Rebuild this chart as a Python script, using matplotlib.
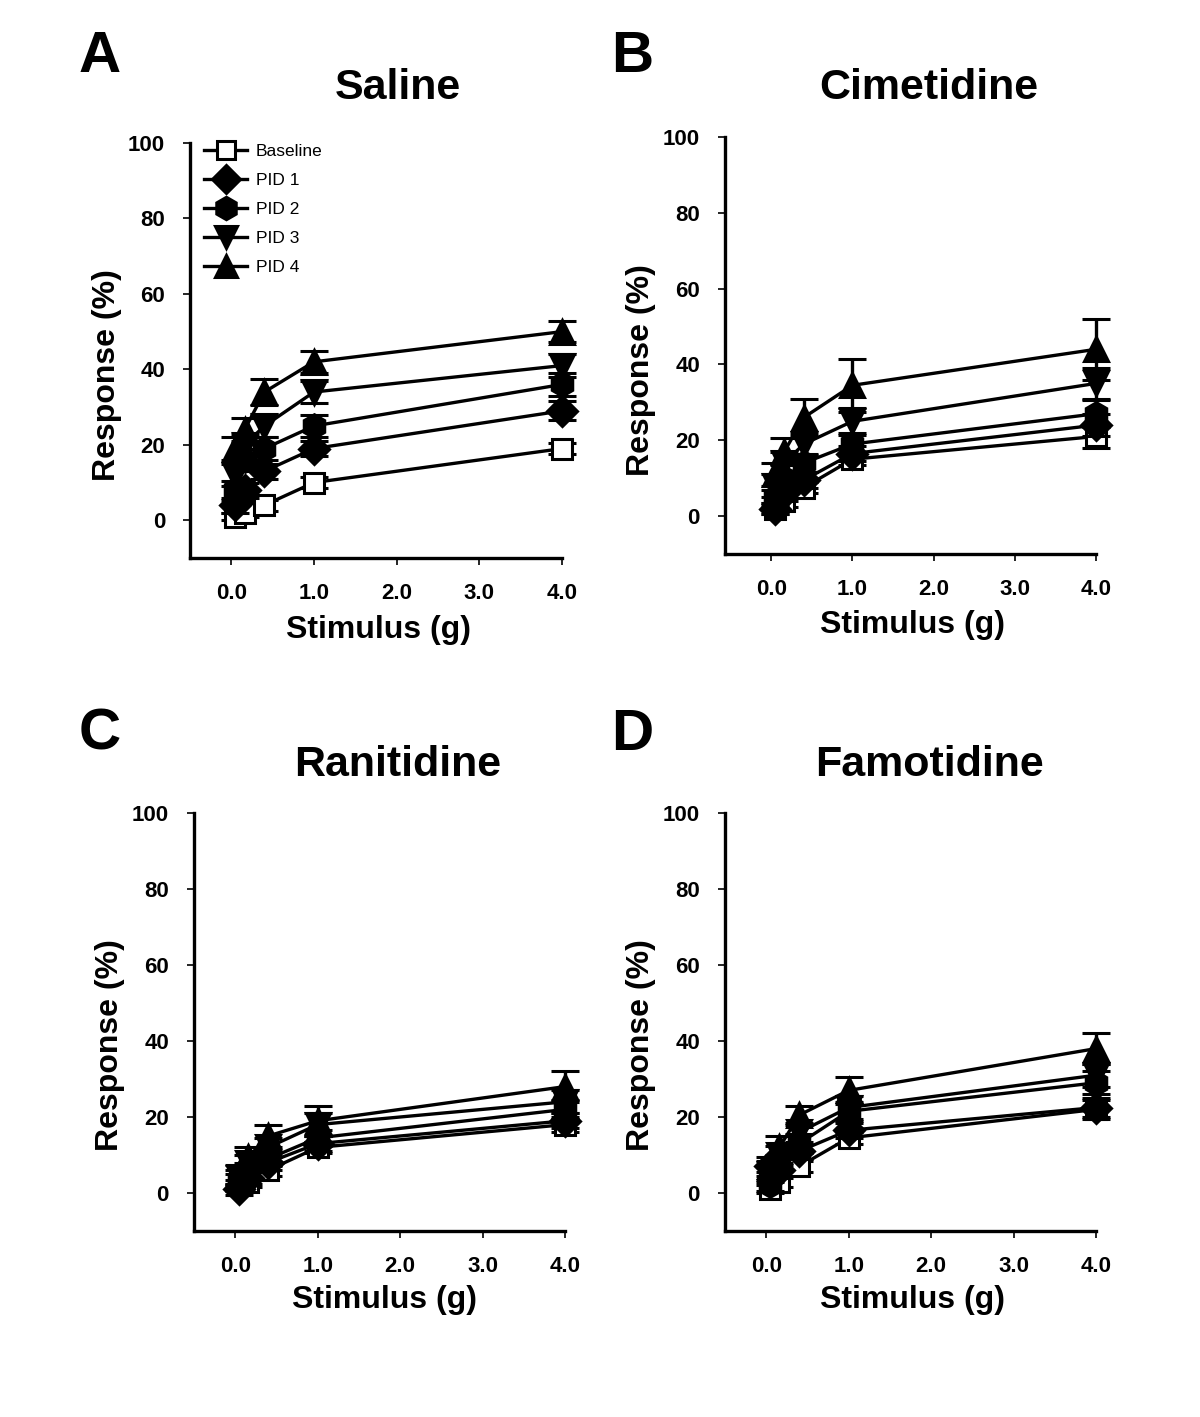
import matplotlib.pyplot as plt
from matplotlib.lines import Line2D

plt.rcParams['font.family'] = ['Liberation Sans', 'DejaVu Sans']

# stimulus (g)
stim = [0.04, 0.16, 0.4, 1.0, 4.0]
groups = ['Baseline', 'PID 1', 'PID 2', 'PID 3', 'PID 4']
panels = ['A', 'B', 'C', 'D']
titles = ['Saline', 'Cimetidine', 'Ranitidine', 'Famotidine']

# mean response (%) per group, one list per panel
saline_mean = [[1, 2, 4, 10, 19],
               [4, 8, 13, 19, 29],
               [8, 16, 19, 25, 36],
               [12, 20, 25, 34, 41],
               [19, 24, 34, 42, 50]]
saline_err = [[1, 1, 1.5, 1.5, 1.5],
              [2, 2, 2, 2, 2.5],
              [2.5, 3, 3, 3, 3],
              [3, 3, 3, 3, 3],
              [3, 3, 3.5, 3, 2.7]]

cimet_mean = [[2, 4, 7.5, 15, 21],
              [2, 6, 9.5, 16.5, 24],
              [5, 10, 14, 19, 27],
              [8, 14, 19, 25, 35],
              [11, 17, 26, 34.5, 44]]
cimet_err = [[1.5, 1.5, 1.5, 1.5, 3],
             [1.5, 2, 2, 2, 3],
             [2, 2, 2.5, 3, 3.5],
             [3, 3, 3, 3.5, 4],
             [3, 3.5, 5, 7, 8]]

ranit_mean = [[2, 3, 6, 12, 18],
              [1, 4, 8, 13, 19],
              [3, 6, 9, 14.5, 22],
              [4, 8, 12, 18, 24],
              [5, 9.5, 15, 19, 28]]
ranit_err = [[1.5, 1.5, 1.5, 1.5, 2],
             [1.5, 1.5, 2, 2, 2],
             [2, 2, 2, 2, 2.5],
             [2, 2, 2.5, 3, 3],
             [2.5, 2.5, 3, 4, 4]]

famot_mean = [[1, 3, 7, 14.5, 22],
              [7, 6, 11, 16.5, 22.5],
              [2, 8, 13, 21.5, 29],
              [5, 10, 16, 22.5, 31],
              [7, 12, 20.5, 27, 38]]
famot_err = [[1, 1.5, 1.5, 1.5, 2.5],
             [1.5, 2, 2, 2, 2.5],
             [1.5, 2, 2.5, 2.5, 3],
             [2, 2.5, 2.5, 3, 3],
             [2.5, 3, 2.5, 3.5, 4]]

all_means = [saline_mean, cimet_mean, ranit_mean, famot_mean]
all_errs = [saline_err, cimet_err, ranit_err, famot_err]

markers = ['s', 'D', 'h', 'v', '^']
msizes = [14, 15, 17, 17, 17]
faces = ['white', 'black', 'black', 'black', 'black']

W, H = 1200, 1417
# axes boxes in pixels: left, top, right, bottom
boxes = [(190, 143, 562, 558), (725, 137, 1096, 554),
         (194, 813, 565, 1231), (725, 813, 1096, 1231)]
letter_pos = [(100, 57), (632, 57), (100, 735), (632, 735)]
title_pos = [(398, 88), (929, 88), (398, 765), (929, 765)]
ylab_pos = [(107, 375), (641, 370), (110, 1045), (641, 1045)]
xlab_pos = [(379, 630), (913, 625), (384, 1300), (913, 1300)]

fig = plt.figure(figsize=(12, 14.17), dpi=100)

for i in range(4):
    l, t, r, b = boxes[i]
    ax = fig.add_axes([l / W, 1 - b / H, (r - l) / W, (b - t) / H])
    xmin = -0.5 if i != 1 else -0.57
    for g in range(5):
        ax.errorbar(stim, all_means[i][g], yerr=all_errs[i][g],
                    color='black', lw=2.4, marker=markers[g], ms=msizes[g],
                    mfc=faces[g], mec='black', mew=2.2, capsize=10,
                    capthick=2.4, elinewidth=2.4,
                    clip_on=False, zorder=3 + g)
    ax.set_xlim(xmin, 4.0)
    ax.set_ylim(-10, 100)
    ax.set_yticks([0, 20, 40, 60, 80, 100])
    ax.set_xticks([0, 1, 2, 3, 4])
    ax.set_xticklabels(['0.0', '1.0', '2.0', '3.0', '4.0'])
    for s in ['top', 'right']:
        ax.spines[s].set_visible(False)
    for s in ['left', 'bottom']:
        ax.spines[s].set_linewidth(2.4)
    ax.tick_params(direction='out', length=5, width=1.2, labelsize=16, pad=13)
    for lab in ax.get_xticklabels() + ax.get_yticklabels():
        lab.set_fontweight('bold')

    if i == 0:
        handles = [Line2D([], [], color='black', lw=2.4, marker=markers[g],
                          ms=msizes[g] * 0.95, mfc=faces[g], mec='black',
                          mew=2.2) for g in range(5)]
        ax.legend(handles, groups, loc='upper left',
                  bbox_to_anchor=(0.005, 1.028), frameon=False,
                  fontsize=12.5, handlelength=2.5, labelspacing=0.8,
                  borderaxespad=0.3, handletextpad=0.5)

    fig.text(letter_pos[i][0] / W, 1 - letter_pos[i][1] / H, panels[i],
             fontsize=42, fontweight='bold', ha='center', va='center')
    fig.text(title_pos[i][0] / W, 1 - title_pos[i][1] / H, titles[i],
             fontsize=31, fontweight='bold', ha='center', va='center')
    fig.text(ylab_pos[i][0] / W, 1 - ylab_pos[i][1] / H, 'Response (%)',
             fontsize=23, fontweight='bold', ha='center', va='center',
             rotation=90)
    fig.text(xlab_pos[i][0] / W, 1 - xlab_pos[i][1] / H, 'Stimulus (g)',
             fontsize=23, fontweight='bold', ha='center', va='center')

fig.savefig('out.png', dpi=100)
